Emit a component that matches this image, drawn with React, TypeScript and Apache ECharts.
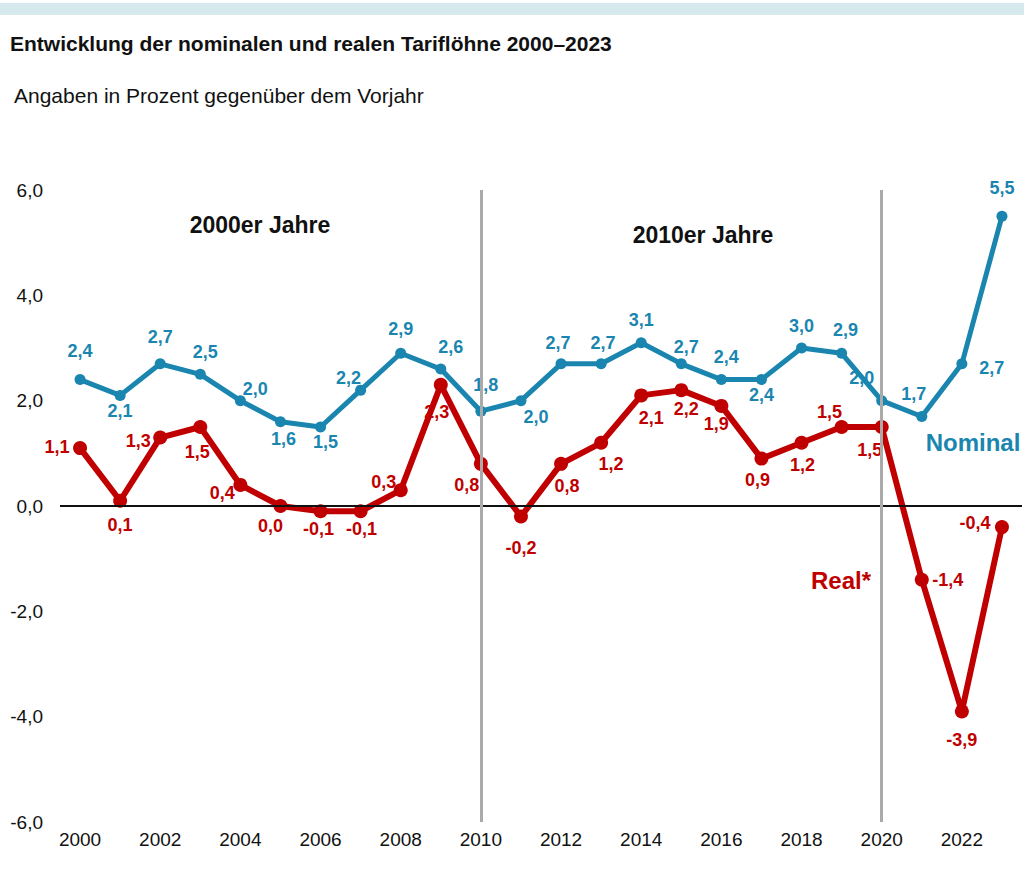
import React, { useEffect, useRef } from "react";
import * as echarts from "echarts";

const years = [
  "2000", "2001", "2002", "2003", "2004", "2005", "2006", "2007", "2008", "2009", "2010", "2011",
  "2012", "2013", "2014", "2015", "2016", "2017", "2018", "2019", "2020", "2021", "2022", "2023",
];
const nominal = [2.4, 2.1, 2.7, 2.5, 2.0, 1.6, 1.5, 2.2, 2.9, 2.6, 1.8, 2.0, 2.7, 2.7, 3.1, 2.7, 2.4, 2.4, 3.0, 2.9, 2.0, 1.7, 2.7, 5.5];
const real = [1.1, 0.1, 1.3, 1.5, 0.4, 0.0, -0.1, -0.1, 0.3, 2.3, 0.8, -0.2, 0.8, 1.2, 2.1, 2.2, 1.9, 0.9, 1.2, 1.5, 1.5, -1.4, -3.9, -0.4];
const decadeMarks = ["2010", "2020"];

// label offsets relative to each point (dx, dy in px)
const nominalLabelOffsets: [number, number][] = [
  [0, -29], [0, 16], [0, -27], [5, -22], [15, -12], [3, 17], [5, 15], [-12, -12],
  [0, -24], [10, -22], [5, -26], [15, 16], [-3, -21], [2, -21], [0, -23], [5, -17],
  [5, -23], [0, 15], [0, -22], [4, -23], [-20, -23], [-8, -22], [30, 4], [0, -28],
];
const realLabelOffsets: [number, number][] = [
  [-23, -1], [0, 24], [-22, 3], [-3, 25], [-18, 8], [-10, 20], [-2, 18], [1, 18],
  [-17, -8], [-4, 27], [-14, 21], [0, 31], [6, 22], [10, 21], [10, 23], [5, 19],
  [-5, 18], [-4, 21], [1, 22], [-12, -15], [-12, 23], [26, 0], [0, 29], [-27, -4],
];

const BLUE = "#1a86b0";
const RED = "#c00000";
const NARROW = "'Liberation Sans Narrow', 'Arial Narrow', 'Liberation Sans', Arial, sans-serif";
const SANS = "'Liberation Sans', Arial, sans-serif";

const fmt = (v: number) => v.toFixed(1).replace(".", ",");

export default function App() {
  const ref = useRef<HTMLDivElement>(null);
  useEffect(() => {
    if (!ref.current) return;
    const chart = echarts.init(ref.current, undefined, { renderer: "svg" });
    const mk = (vals: number[], offs: [number, number][]) =>
      vals.map((v, i) => ({ value: v, label: { offset: offs[i] } }));
    chart.setOption({
      animation: false,
      backgroundColor: "#ffffff",
      grid: { left: 60, right: 2, top: 190, bottom: 48, containLabel: false },
      xAxis: {
        type: "category",
        data: years,
        boundaryGap: true,
        axisLine: { show: false },
        axisTick: { show: false },
        splitLine: { show: false },
        axisLabel: { interval: 1, fontSize: 19, color: "#111", fontFamily: SANS, margin: 8 },
      },
      yAxis: {
        type: "value",
        min: -6,
        max: 6,
        interval: 2,
        axisLine: { show: false },
        axisTick: { show: false },
        splitLine: { show: false },
        axisLabel: { fontSize: 19, color: "#111", fontFamily: SANS, margin: 17, formatter: (v: number) => fmt(v) },
      },
      graphic: [
        { type: "rect", shape: { x: 0, y: 3, width: 1024, height: 12 }, style: { fill: "#d6eaee" } },
        {
          type: "text", left: 10, top: 33,
          style: { text: "Entwicklung der nominalen und realen Tariflöhne 2000–2023", font: `bold 21px ${NARROW}`, fill: "#111" },
        },
        {
          type: "text", left: 14, top: 85,
          style: { text: "Angaben in Prozent gegenüber dem Vorjahr", font: `21px ${NARROW}`, fill: "#111" },
        },
        {
          type: "text", x: 260, y: 225,
          style: { text: "2000er Jahre", font: `bold 23px ${NARROW}`, fill: "#111", align: "center", verticalAlign: "middle" },
        },
        {
          type: "text", x: 703, y: 235,
          style: { text: "2010er Jahre", font: `bold 23px ${NARROW}`, fill: "#111", align: "center", verticalAlign: "middle" },
        },
        {
          type: "text", x: 973, y: 442,
          style: { text: "Nominal", font: `bold 24px ${NARROW}`, fill: BLUE, align: "center", verticalAlign: "middle" },
        },
        {
          type: "text", x: 841, y: 580,
          style: { text: "Real*", font: `bold 24px ${NARROW}`, fill: RED, align: "center", verticalAlign: "middle" },
        },
      ],
      series: [
        {
          name: "guides",
          type: "line",
          data: [],
          z: 1,
          markLine: {
            silent: true,
            symbol: ["none", "none"],
            label: { show: false },
            data: [
              { yAxis: 0, lineStyle: { color: "#111", width: 2, type: "solid" } },
              ...decadeMarks.map((y) => ({ xAxis: y, lineStyle: { color: "#aaaaaa", width: 3, type: "solid" } })),
            ],
          },
        },
        {
          name: "Nominal",
          type: "line",
          z: 3,
          data: mk(nominal, nominalLabelOffsets),
          symbol: "circle",
          symbolSize: 11,
          color: BLUE,
          lineStyle: { color: BLUE, width: 5 },
          itemStyle: { color: BLUE },
          label: {
            show: true, position: "inside", color: BLUE, fontWeight: "bold", fontSize: 18, fontFamily: NARROW,
            formatter: (p: any) => fmt(p.value),
          },
        },
        {
          name: "Real",
          type: "line",
          z: 4,
          data: mk(real, realLabelOffsets),
          symbol: "circle",
          symbolSize: 14,
          color: RED,
          lineStyle: { color: RED, width: 6 },
          itemStyle: { color: RED },
          label: {
            show: true, position: "inside", color: RED, fontWeight: "bold", fontSize: 18, fontFamily: NARROW,
            formatter: (p: any) => fmt(p.value),
          },
        },
      ],
    });
    return () => chart.dispose();
  }, []);
  return <div ref={ref} style={{ position: "absolute", left: 0, top: 0, width: 1024, height: 870 }} />;
}
